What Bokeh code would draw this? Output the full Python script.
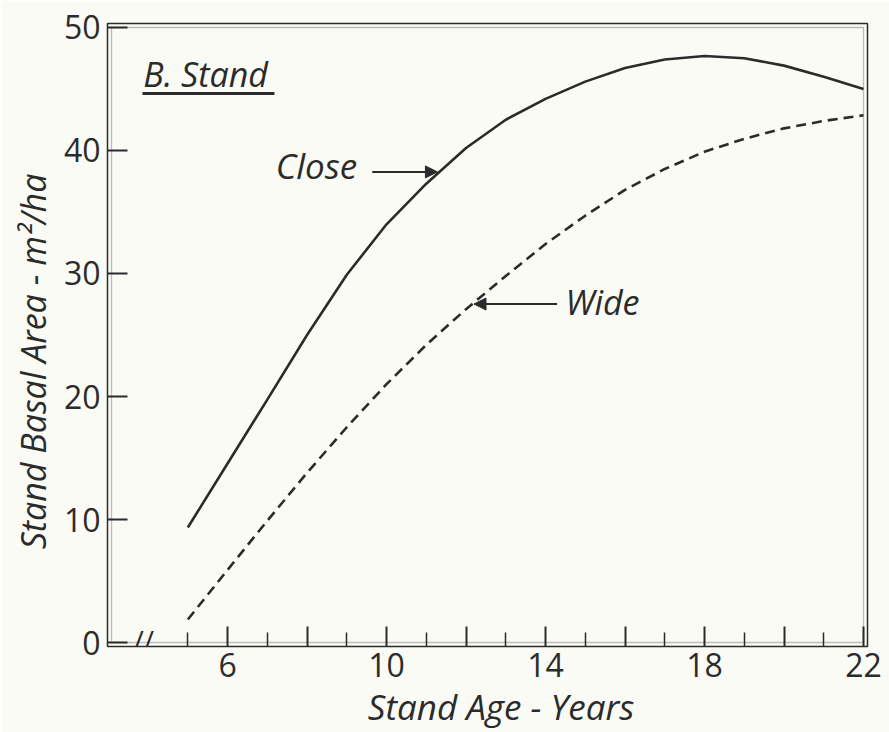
from bokeh.plotting import figure
from bokeh.models import (Range1d, FixedTicker, Label, Arrow, NormalHead,
                          BoxAnnotation)
from bokeh.embed import file_html
from bokeh.resources import INLINE

# ---- data ----
years = [5, 6, 7, 8, 9, 10, 11, 12, 13, 14, 15, 16, 17, 18, 19, 20, 21, 22]
close = [9.35, 14.55, 19.75, 25.0, 29.9, 34.0, 37.3, 40.2, 42.5, 44.2,
         45.6, 46.7, 47.4, 47.68, 47.5, 46.9, 46.0, 45.0]
wide = [1.87, 5.9, 9.9, 13.8, 17.5, 21.0, 24.2, 27.1, 29.8, 32.4,
        34.7, 36.8, 38.5, 39.9, 40.95, 41.8, 42.4, 42.86]

x_major_ticks = [6, 8, 10, 12, 14, 16, 18, 20, 22]
x_minor_ticks = [5, 7, 9, 11, 13, 15, 17, 19, 21]
x_tick_labels = {6: "6", 8: "", 10: "10", 12: "", 14: "14", 16: "",
                 18: "18", 20: "", 22: "22"}
y_ticks = [0, 10, 20, 30, 40, 50]

title_text = "B. Stand"
close_label = "Close"
wide_label = "Wide"
x_title = "Stand Age - Years"
y_title = "Stand Basal Area - m\u00b2/ha"

# axis limits of the inner frame
x_lo, x_hi = 3.08, 22.0
y_lo, y_hi = 0.0, 50.0

ink = "#2b2b2b"
paper = "#fbfbf6"
FONT = "Open Sans"
NBSP = "\u00a0"

W, H = 889, 732
# outer frame line at 107 / 867 / 23 / 647 px; inner frame 4 px inside
left_b, right_b, top_b, bottom_b = 107, 22, 23, 85
gap = 4
inner_w = W - left_b - right_b - 2 * gap
inner_h = H - top_b - bottom_b - 2 * gap
pad_x = gap * (x_hi - x_lo) / inner_w
pad_y = gap * (y_hi - y_lo) / inner_h

p = figure(width=W, height=H,
           x_range=Range1d(x_lo - pad_x, x_hi + pad_x),
           y_range=Range1d(y_lo - pad_y, y_hi + pad_y),
           output_backend="svg", toolbar_location=None,
           min_border_left=left_b, min_border_right=right_b,
           min_border_top=top_b, min_border_bottom=bottom_b)

p.background_fill_color = paper
p.border_fill_color = paper
p.grid.visible = False
p.outline_line_color = ink
p.outline_line_width = 1.5

# x axis
xa = p.xaxis[0]
xa.ticker = FixedTicker(ticks=x_major_ticks, minor_ticks=x_minor_ticks)
xa.major_label_overrides = x_tick_labels
xa.axis_line_color = None
xa.major_tick_in = 20
xa.major_tick_out = 0
xa.minor_tick_in = 14
xa.minor_tick_out = 0
xa.major_tick_line_color = ink
xa.minor_tick_line_color = ink
xa.major_tick_line_width = 2
xa.minor_tick_line_width = 1.5
xa.major_label_text_font = FONT
xa.major_label_text_font_size = "32px"
xa.major_label_text_color = ink
xa.major_label_standoff = 6
# the title sits right of the frame centre; non-breaking spaces shift it
xa.axis_label = NBSP * 3 + x_title
xa.axis_label_text_font = FONT
xa.axis_label_text_font_style = "italic"
xa.axis_label_text_font_size = "35px"
xa.axis_label_text_color = ink
xa.axis_label_standoff = 3

# y axis
ya = p.yaxis[0]
ya.ticker = FixedTicker(ticks=y_ticks)
ya.axis_line_color = None
ya.major_tick_in = 20
ya.major_tick_out = 0
ya.minor_tick_line_color = None
ya.major_tick_line_color = ink
ya.major_tick_line_width = 2
ya.major_label_text_font = FONT
ya.major_label_text_font_size = "32px"
ya.major_label_text_color = ink
ya.major_label_standoff = 7
ya.axis_label = y_title + NBSP * 6
ya.axis_label_text_font = FONT
ya.axis_label_text_font_style = "italic"
ya.axis_label_text_font_size = "34px"
ya.axis_label_text_color = ink
ya.axis_label_standoff = 5

# inner line of the double frame
p.add_layout(BoxAnnotation(left=x_lo, right=x_hi, bottom=y_lo, top=y_hi,
                           fill_alpha=0, fill_color=None, line_color=ink,
                           line_width=1.3))

# curves
p.line(years, close, line_color=ink, line_width=2.6)
p.line(years, wide, line_color=ink, line_width=2.6, line_dash="10 6")

# annotations
p.add_layout(Label(x=3.88, y=46.23, text=title_text, text_font=FONT,
                   text_font_style="italic", text_font_size="34px",
                   text_color=ink, text_baseline="middle"))
p.add_layout(Arrow(end=None, x_start=3.86, y_start=44.64, x_end=7.18,
                   y_end=44.64, line_color=ink, line_width=3))

p.add_layout(Label(x=7.21, y=38.8, text=close_label, text_font=FONT,
                   text_font_style="italic", text_font_size="35px",
                   text_color=ink, text_baseline="middle"))
p.add_layout(Arrow(end=NormalHead(size=12, fill_color=ink, line_color=ink),
                   x_start=9.64, y_start=38.26, x_end=11.28, y_end=38.26,
                   line_color=ink, line_width=2))

p.add_layout(Label(x=14.5, y=27.72, text=wide_label, text_font=FONT,
                   text_font_style="italic", text_font_size="34px",
                   text_color=ink, text_baseline="middle"))
p.add_layout(Arrow(end=NormalHead(size=12, fill_color=ink, line_color=ink),
                   x_start=14.29, y_start=27.52, x_end=12.2, y_end=27.52,
                   line_color=ink, line_width=2))

# axis break marker
p.add_layout(Label(x=3.89, y=0.2, text="//", text_font=FONT,
                   text_font_size="28px", text_color=ink,
                   text_align="center", text_baseline="middle"))

open("out.html", "w").write(file_html(p, INLINE))
